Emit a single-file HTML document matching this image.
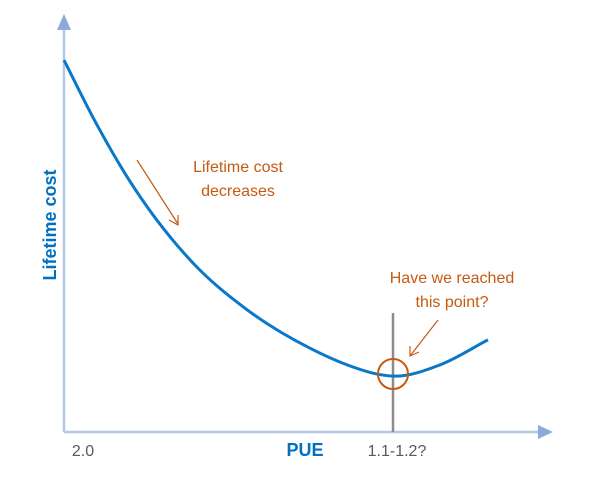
<!DOCTYPE html>
<html><head><meta charset="utf-8"><style>
html,body{margin:0;padding:0;background:#fff}
svg{display:block;font-family:"Liberation Sans",Calibri,sans-serif}
</style></head><body>
<svg id="chart" width="593" height="484" viewBox="0 0 593 484">
  <line x1="64" y1="30" x2="64" y2="432" stroke="#b4c7e7" stroke-width="2.5"/>
  <polygon points="57,30 71,30 64,14" fill="#8eaadb"/>
  <line x1="64" y1="432" x2="538" y2="432" stroke="#b4c7e7" stroke-width="2.5"/>
  <polygon points="538,425 538,439 553,432" fill="#8eaadb"/>
  <text transform="translate(56,225) rotate(-90)" text-anchor="middle" fill="#0070c0" font-size="18" font-weight="bold">Lifetime cost</text>
  <text x="305" y="456" text-anchor="middle" fill="#0070c0" font-size="18" font-weight="bold">PUE</text>
  <text x="83" y="456" text-anchor="middle" fill="#595959" font-size="16">2.0</text>
  <text x="397" y="456" text-anchor="middle" fill="#595959" font-size="16">1.1-1.2?</text>
  <line x1="393" y1="313" x2="393" y2="432" stroke="#8c8c8c" stroke-width="2.5"/>
  <g id="series"></g>
  <circle cx="393" cy="374" r="15" fill="none" stroke="#c55a11" stroke-width="2"/>
  <text x="238" y="172" text-anchor="middle" fill="#c55a11" font-size="16">Lifetime cost</text>
  <text x="238" y="196" text-anchor="middle" fill="#c55a11" font-size="16">decreases</text>
  <line x1="137" y1="160" x2="178" y2="224" stroke="#c55a11" stroke-width="1.2"/>
  <polyline points="169,220 178,225 178,215" fill="none" stroke="#c55a11" stroke-width="1.2"/>
  <text x="452" y="283" text-anchor="middle" fill="#c55a11" font-size="16">Have we reached</text>
  <text x="452" y="307" text-anchor="middle" fill="#c55a11" font-size="16">this point?</text>
  <line x1="438" y1="320" x2="410" y2="356" stroke="#c55a11" stroke-width="1.2"/>
  <polyline points="410,346 410,356 419,352" fill="none" stroke="#c55a11" stroke-width="1.2"/>
</svg>
<script>
const xValues = [0, 5.9, 12.9, 26.4, 37.0, 50.3, 57.9, 64.0, 67.3, 76.9, 86.7];
const costValues = [89.2, 75.5, 61.2, 40.5, 29.7, 20.1, 16.1, 13.9, 13.4, 16.1, 22.1];
function xScale(v){ return 64 + v * 4.89; }
function yScale(v){ return 432 - v * 4.17; }
const pts = xValues.map((x,i)=>[xScale(x), yScale(costValues[i])]);
const n = pts.length;
const sl = [];
for (let i=0;i<n-1;i++) sl.push((pts[i+1][1]-pts[i][1])/(pts[i+1][0]-pts[i][0]));
const m = pts.map((p,i)=>{
  if (i===0) return sl[0];
  if (i===n-1) return sl[n-2];
  const h0=pts[i][0]-pts[i-1][0], h1=pts[i+1][0]-pts[i][0];
  return (sl[i-1]*h1 + sl[i]*h0)/(h0+h1);
});
let d = 'M' + pts[0][0] + ',' + pts[0][1];
for (let i=0;i<n-1;i++){
  const h = (pts[i+1][0]-pts[i][0])/3;
  d += ' C'+(pts[i][0]+h)+','+(pts[i][1]+m[i]*h)+' '+(pts[i+1][0]-h)+','+(pts[i+1][1]-m[i+1]*h)+' '+pts[i+1][0]+','+pts[i+1][1];
}
const path = document.createElementNS('http://www.w3.org/2000/svg','path');
path.setAttribute('d', d);
path.setAttribute('fill','none');
path.setAttribute('stroke','#0a78c8');
path.setAttribute('stroke-width','3');


document.getElementById('series').appendChild(path);
</script>
</body></html>
